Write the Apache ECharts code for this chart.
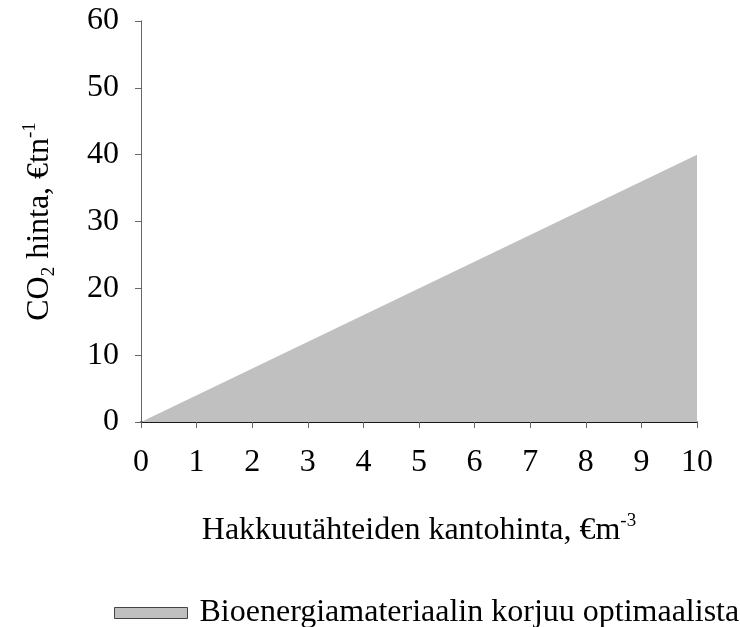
<!DOCTYPE html>
<html>
<head>
<meta charset="utf-8">
<script src="https://cdn.jsdelivr.net/npm/echarts@6/dist/echarts.min.js"></script>
<style>
  html, body { margin: 0; padding: 0; background: #fff; }
  #chart { width: 740px; height: 627px; }
</style>
</head>
<body>
<div id="chart"></div>
<script>
    // raja: kantohinta (x) vs CO2 hinta (y)
    let kantohinta = [0, 10];
    let co2Hinta = [0, 40];
    let xTicks = [0, 1, 2, 3, 4, 5, 6, 7, 8, 9, 10];
    let yTicks = [0, 10, 20, 30, 40, 50, 60];
    let sarjaNimi = 'Bioenergiamateriaalin korjuu optimaalista';

    let font = '"Liberation Serif", "Times New Roman", serif';
    let points = [];
    for (let i = 0; i < kantohinta.length; i++) {
        points.push([kantohinta[i], co2Hinta[i]]);
    }

    let richText = {
        a: {fontFamily: font, fontSize: 32, color: '#000', lineHeight: 38},
        sup: {fontFamily: font, fontSize: 19, color: '#000', lineHeight: 20, verticalAlign: 'top'},
        sub: {fontFamily: font, fontSize: 19, color: '#000', lineHeight: 20, verticalAlign: 'bottom'}
    };

    let chart = echarts.init(document.getElementById('chart'));
    chart.setOption({
        animation: false,
        textStyle: {fontFamily: font},
        grid: {left: 141, right: 43, top: 21, bottom: 205},
        legend: {
            left: 109,
            top: 592,
            itemWidth: 73,
            itemHeight: 11,
            itemGap: 25,
            textStyle: {fontFamily: font, fontSize: 32, color: '#000', padding: [0, 0, 0, 7]},
            data: [{
                name: sarjaNimi,
                icon: 'rect',
                itemStyle: {color: '#c0c0c0', borderColor: '#444', borderWidth: 1}
            }]
        },
        xAxis: [
            {
                type: 'value',
                min: xTicks[0],
                max: xTicks[xTicks.length - 1],
                interval: 1,
                name: '{a|Hakkuutähteiden kantohinta, €m}{sup|-3}',
                nameLocation: 'middle',
                nameGap: 90,
                nameTextStyle: {rich: richText},
                axisLine: {lineStyle: {color: '#666', width: 1}},
                axisTick: {show: true, inside: false, length: 6, lineStyle: {color: '#666'}},
                axisLabel: {fontFamily: font, fontSize: 32, color: '#000', margin: 25},
                splitLine: {show: false}
            },
            {
                type: 'value',
                position: 'top',
                min: 0,
                max: 10,
                axisLine: {show: true, lineStyle: {color: '#000', width: 1.5}},
                axisTick: {show: false},
                axisLabel: {show: false},
                splitLine: {show: false}
            }
        ],
        yAxis: [
            {
                type: 'value',
                min: yTicks[0],
                max: yTicks[yTicks.length - 1],
                interval: 10,
                name: '{a|CO}{sub|2}{a| hinta, €tn}{sup|-1}',
                nameLocation: 'middle',
                nameGap: 82,
                nameTextStyle: {rich: richText},
                axisLine: {show: true, lineStyle: {color: '#666', width: 1}},
                axisTick: {show: true, inside: false, length: 6, lineStyle: {color: '#666'}},
                axisLabel: {fontFamily: font, fontSize: 32, color: '#000', margin: 22},
                splitLine: {show: false}
            },
            {
                type: 'value',
                position: 'right',
                min: 0,
                max: 60,
                axisLine: {show: true, lineStyle: {color: '#666', width: 1}},
                axisTick: {show: false},
                axisLabel: {show: false},
                splitLine: {show: false}
            }
        ],
        series: [
            {
                name: sarjaNimi,
                type: 'line',
                data: points,
                symbol: 'none',
                lineStyle: {width: 0},
                areaStyle: {color: '#c0c0c0', opacity: 1},
                itemStyle: {color: '#c0c0c0'}
            }
        ]
    });
</script>
</body>
</html>
